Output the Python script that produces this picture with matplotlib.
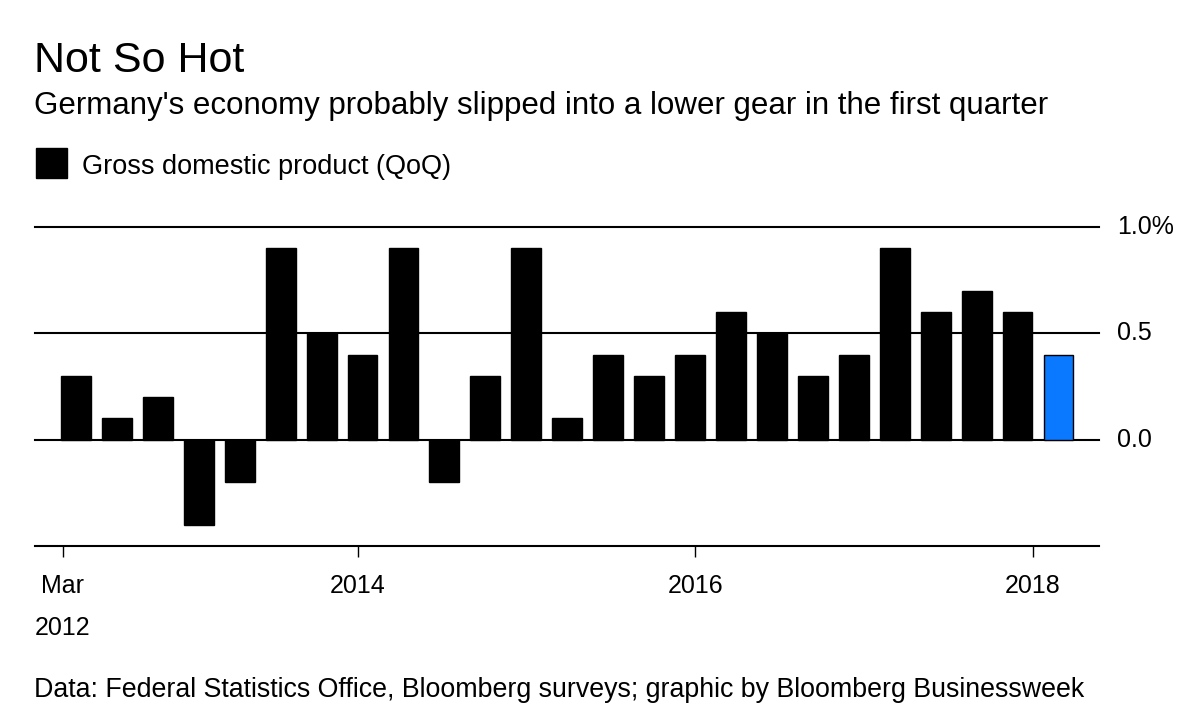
import numpy as np
import matplotlib.pyplot as plt
from matplotlib.patches import Rectangle

plt.rcParams['font.family'] = ['Liberation Sans', 'DejaVu Sans']

# quarterly GDP growth, QoQ %, Mar 2012 .. Mar 2018 (last one is the forecast)
quarters = ["Mar 2012", "Jun 2012", "Sep 2012", "Dec 2012",
            "Mar 2013", "Jun 2013", "Sep 2013", "Dec 2013",
            "Mar 2014", "Jun 2014", "Sep 2014", "Dec 2014",
            "Mar 2015", "Jun 2015", "Sep 2015", "Dec 2015",
            "Mar 2016", "Jun 2016", "Sep 2016", "Dec 2016",
            "Mar 2017", "Jun 2017", "Sep 2017", "Dec 2017",
            "Mar 2018"]
gdp = [0.3, 0.1, 0.2, -0.4, -0.2, 0.9, 0.5, 0.4, 0.9, -0.2, 0.3, 0.9, 0.1,
       0.4, 0.3, 0.4, 0.6, 0.5, 0.3, 0.4, 0.9, 0.6, 0.7, 0.6, 0.4]
tick_pos = [-0.32, 6.89, 15.13, 23.38]
tick_labels = ["Mar\n2012", "2014", "2016", "2018"]
y_ticks = [0.0, 0.5, 1.0]
y_labels = ["0.0", "0.5", "1.0%"]

fig = plt.figure(figsize=(12, 7.2), dpi=100)
ax = fig.add_axes([35 / 1200, 1 - 546 / 720, 1064 / 1200, 319 / 720])

x = np.arange(len(gdp))
colors = ["black"] * (len(gdp) - 1) + ["#0A78FF"]
ax.bar(x, gdp, width=0.73, color=colors, edgecolor="black", linewidth=1, zorder=3)

ax.set_xlim(-1.0, 24.99)
ax.set_ylim(-0.5, 1.0)
for v in y_ticks:
    ax.axhline(v, color="black", lw=1.5, zorder=2, clip_on=False)

ax.set_yticks(y_ticks)
ax.set_yticklabels(y_labels)
ax.yaxis.tick_right()
ax.tick_params(axis="y", length=0, pad=13, labelsize=18)
for lab in ax.get_yticklabels():
    lab.set_verticalalignment("center")

ax.set_xticks(tick_pos)
ax.set_xticklabels(tick_labels, linespacing=1.95)
ax.tick_params(axis="x", length=8, width=1, direction="out", pad=12, labelsize=18)

for s in ["top", "left", "right"]:
    ax.spines[s].set_visible(False)
ax.spines["bottom"].set_linewidth(1.5)

fig.text(34 / 1200, 1 - 72 / 720, "Not So Hot", fontsize=31, ha="left", va="baseline")
fig.text(34 / 1200, 1 - 114 / 720,
         "Germany's economy probably slipped into a lower gear in the first quarter",
         fontsize=22.5, ha="left", va="baseline")
fig.patches.append(Rectangle((36 / 1200, 1 - 178 / 720), 31 / 1200, 30 / 720,
                             transform=fig.transFigure, color="black"))
fig.text(82 / 1200, 1 - 174 / 720, "Gross domestic product (QoQ)",
         fontsize=19.5, ha="left", va="baseline")
fig.text(34 / 1200, 1 - 697 / 720,
         "Data: Federal Statistics Office, Bloomberg surveys; graphic by Bloomberg Businessweek",
         fontsize=19.3, ha="left", va="baseline")

fig.savefig("out.png", dpi=100)
